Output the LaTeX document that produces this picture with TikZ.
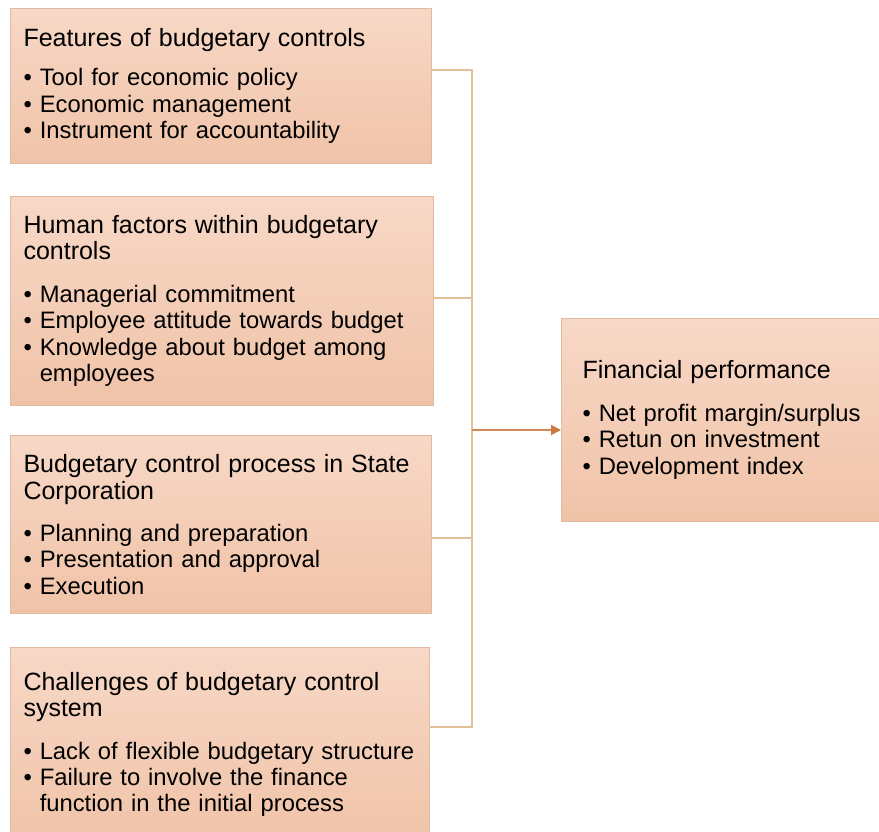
\documentclass[tikz,border=0pt]{standalone}
\usepackage{fontspec}
\setmainfont{Liberation Sans}
\usetikzlibrary{arrows.meta}
\definecolor{peachtop}{RGB}{247,216,198}
\definecolor{peachbot}{RGB}{240,195,168}
\definecolor{peachline}{RGB}{226,186,160}
\definecolor{linktan}{RGB}{226,192,152}
\definecolor{arrowor}{RGB}{205,120,65}
\newcommand{\boxtitle}[1]{{\fontsize{25}{27}\selectfont #1}}
\newcommand{\bul}[1]{\mbox{\textbullet\ #1}}
\newcommand{\bulgap}[1]{\mbox{\phantom{\textbullet\ }#1}}
\tikzset{
  box/.style={draw=peachline, line width=1pt, top color=peachtop, bottom color=peachbot,
    anchor=north west, inner xsep=13pt, inner ysep=0pt, align=left,
    font=\fontsize{23.8}{26.4}\selectfont},
  link/.style={draw=linktan, line width=1.8pt},
  arrowlink/.style={draw=arrowor!75!linktan, line width=1.8pt,
    -{Triangle[length=10pt,width=10pt,color=arrowor]}}
}
\begin{document}
\begin{tikzpicture}[x=1pt,y=-1pt]
  \useasboundingbox (0,0) rectangle (879,831);

  %%%%%%%%%%%%%The four boxes on the left%%%%%%%%%%%%%%%%%%%%%%
  \node[box, text width=395pt, minimum width=421pt, minimum height=155pt] (feat) at (10,8)
    {\boxtitle{Features of budgetary controls}\\[13pt]
     \bul{Tool for economic policy}\\
     \bul{Economic management}\\
     \bul{Instrument for accountability}};
  \node[box, text width=397pt, minimum width=423pt, minimum height=209pt] (human) at (10,196)
    {\boxtitle{Human factors within budgetary}\\ \boxtitle{controls}\\[16pt]
     \bul{Managerial commitment}\\
     \bul{Employee attitude towards budget}\\
     \bul{Knowledge about budget among}\\
     \bulgap{employees}};
  \node[box, text width=395pt, minimum width=421pt, minimum height=178pt] (process) at (10,435)
    {\boxtitle{Budgetary control process in State}\\ \boxtitle{Corporation}\\[16pt]
     \bul{Planning and preparation}\\
     \bul{Presentation and approval}\\
     \bul{Execution}};
  \node[box, text width=393pt, minimum width=419pt, minimum height=194pt] (chall) at (10,647)
    {\boxtitle{Challenges of budgetary control}\\ \boxtitle{system}\\[16pt]
     \bul{Lack of flexible budgetary structure}\\
     \bul{Failure to involve the finance}\\
     \bulgap{function in the initial process}};

  %%%%%%%%%%%%%The box on the right%%%%%%%%%%%%%%%%%%%%%%
  \node[box, inner xsep=21pt, text width=276pt, minimum width=318pt, minimum height=203pt] (perf) at (561,318)
    {\boxtitle{Financial performance}\\[16pt]
     \bul{Net profit margin/surplus}\\
     \bul{Retun on investment}\\
     \bul{Development index}};

  %%%%%%%%%%%%%Connectors%%%%%%%%%%%%%%%%%%%%%%
  \coordinate (j1) at (472,70);
  \coordinate (j2) at (472,298);
  \coordinate (j3) at (472,538);
  \coordinate (j4) at (472,727);
  \coordinate (jm) at (472,430);
  \draw[link] (feat.east |- j1) -- (j1) -- (j4) -- (chall.east |- j4);
  \draw[link] (human.east |- j2) -- (j2);
  \draw[link] (process.east |- j3) -- (j3);
  \draw[arrowlink] (jm) -- (perf.west |- jm);
\end{tikzpicture}
\end{document}
